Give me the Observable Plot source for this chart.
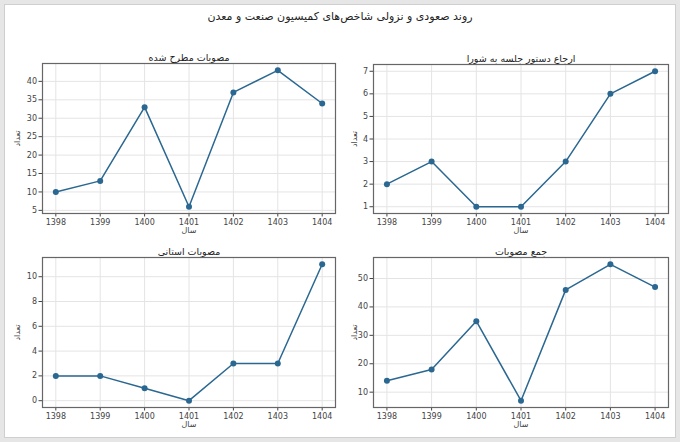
<!DOCTYPE html>
<html>
<head>
<meta charset="utf-8">
<script src="https://cdn.jsdelivr.net/npm/d3@7"></script>
<script src="https://cdn.jsdelivr.net/npm/@observablehq/plot@0.6"></script>
<style>
  html, body { margin: 0; padding: 0; background: #e6e6e6; }
  #page { position: relative; width: 680px; height: 442px; overflow: hidden; }
  #card { position: absolute; left: 4px; top: 4px; width: 670px; height: 432px; background: #fff; border: 1px solid #cfcfcf; }
  .panel { position: absolute; }
  #suptitle { position: absolute; left: 0; top: 10px; width: 680px; text-align: center; font: 11px "DejaVu Sans", sans-serif; color: #222; direction: rtl; }
</style>
</head>
<body>
<div id="page">
  <div id="card"></div>
  <div id="suptitle">روند صعودی و نزولی شاخص‌های کمیسیون صنعت و معدن</div>
</div>
<script>
const years = [1398, 1399, 1400, 1401, 1402, 1403, 1404];
const mosavabatMatrah = [10, 13, 33, 6, 37, 43, 34];
const erjaDastur = [2, 3, 1, 1, 3, 6, 7];
const mosavabatOstani = [2, 2, 1, 0, 3, 3, 11];
const jameMosavabat = [14, 18, 35, 7, 46, 55, 47];

const titleTL = "مصوبات مطرح شده";
const titleTR = "ارجاع دستور جلسه به شورا";
const titleBL = "مصوبات استانی";
const titleBR = "جمع مصوبات";
const xLabel = "سال";
const yLabel = "تعداد";

const ticksTL = [5, 10, 15, 20, 25, 30, 35, 40];
const ticksTR = [1, 2, 3, 4, 5, 6, 7];
const ticksBL = [0, 2, 4, 6, 8, 10];
const ticksBR = [10, 20, 30, 40, 50];

const FONT = "DejaVu Sans, sans-serif";
const LINE = "#2a6791";

function pad(vals, f = 0.05) {
  const lo = d3.min(vals), hi = d3.max(vals), r = hi - lo;
  return [lo - r * f, hi + r * f];
}

function panel({values, title, yTicks, left, top, width, height, mL, mR, mT, mB, yLabDx}) {
  const data = years.map((y, i) => ({year: y, v: values[i]}));
  const chart = Plot.plot({
    width, height,
    marginLeft: mL, marginRight: mR, marginTop: mT, marginBottom: mB,
    style: {fontFamily: FONT, fontSize: "8px", color: "#444", background: "transparent", overflow: "visible"},
    x: {domain: pad(years), ticks: years, tickFormat: d => String(d), tickSize: 3.5, tickPadding: 2, label: null},
    y: {domain: pad(values), ticks: yTicks, tickFormat: d => String(d), tickSize: 3.5, tickPadding: 2, label: null},
    marks: [
      Plot.gridX(years, {stroke: "#e4e4e4", strokeOpacity: 1}),
      Plot.gridY(yTicks, {stroke: "#e4e4e4", strokeOpacity: 1}),
      Plot.line(data, {x: "year", y: "v", stroke: LINE, strokeWidth: 1.5}),
      Plot.dot(data, {x: "year", y: "v", fill: LINE, r: 3}),
      Plot.frame({stroke: "#666", strokeWidth: 1.2}),
      Plot.text([title], {frameAnchor: "top", lineAnchor: "bottom", dy: -3, fontSize: 9.5, fill: "#222", fontFamily: FONT}),
      Plot.text([xLabel], {frameAnchor: "bottom", lineAnchor: "top", dy: 14, fontSize: 8, fill: "#444", fontFamily: FONT}),
      Plot.text([yLabel], {frameAnchor: "left", textAnchor: "middle", lineAnchor: "middle", dx: yLabDx, rotate: -90, fontSize: 8, fill: "#444", fontFamily: FONT})
    ]
  });
  const div = document.createElement("div");
  div.className = "panel";
  div.style.left = left + "px";
  div.style.top = top + "px";
  div.appendChild(chart);
  document.getElementById("page").appendChild(div);
}

panel({values: mosavabatMatrah, title: titleTL, yTicks: ticksTL, left: 0, top: 45, width: 340, height: 200, mL: 42, mR: 5, mT: 18, mB: 32, yLabDx: -25});
panel({values: erjaDastur, title: titleTR, yTicks: ticksTR, left: 340, top: 45, width: 340, height: 200, mL: 33, mR: 12, mT: 19, mB: 32, yLabDx: -19});
panel({values: mosavabatOstani, title: titleBL, yTicks: ticksBL, left: 0, top: 239, width: 340, height: 196, mL: 42, mR: 5, mT: 18, mB: 28, yLabDx: -25});
panel({values: jameMosavabat, title: titleBR, yTicks: ticksBR, left: 340, top: 239, width: 340, height: 196, mL: 33, mR: 12, mT: 18, mB: 28, yLabDx: -19});
</script>
</body>
</html>
